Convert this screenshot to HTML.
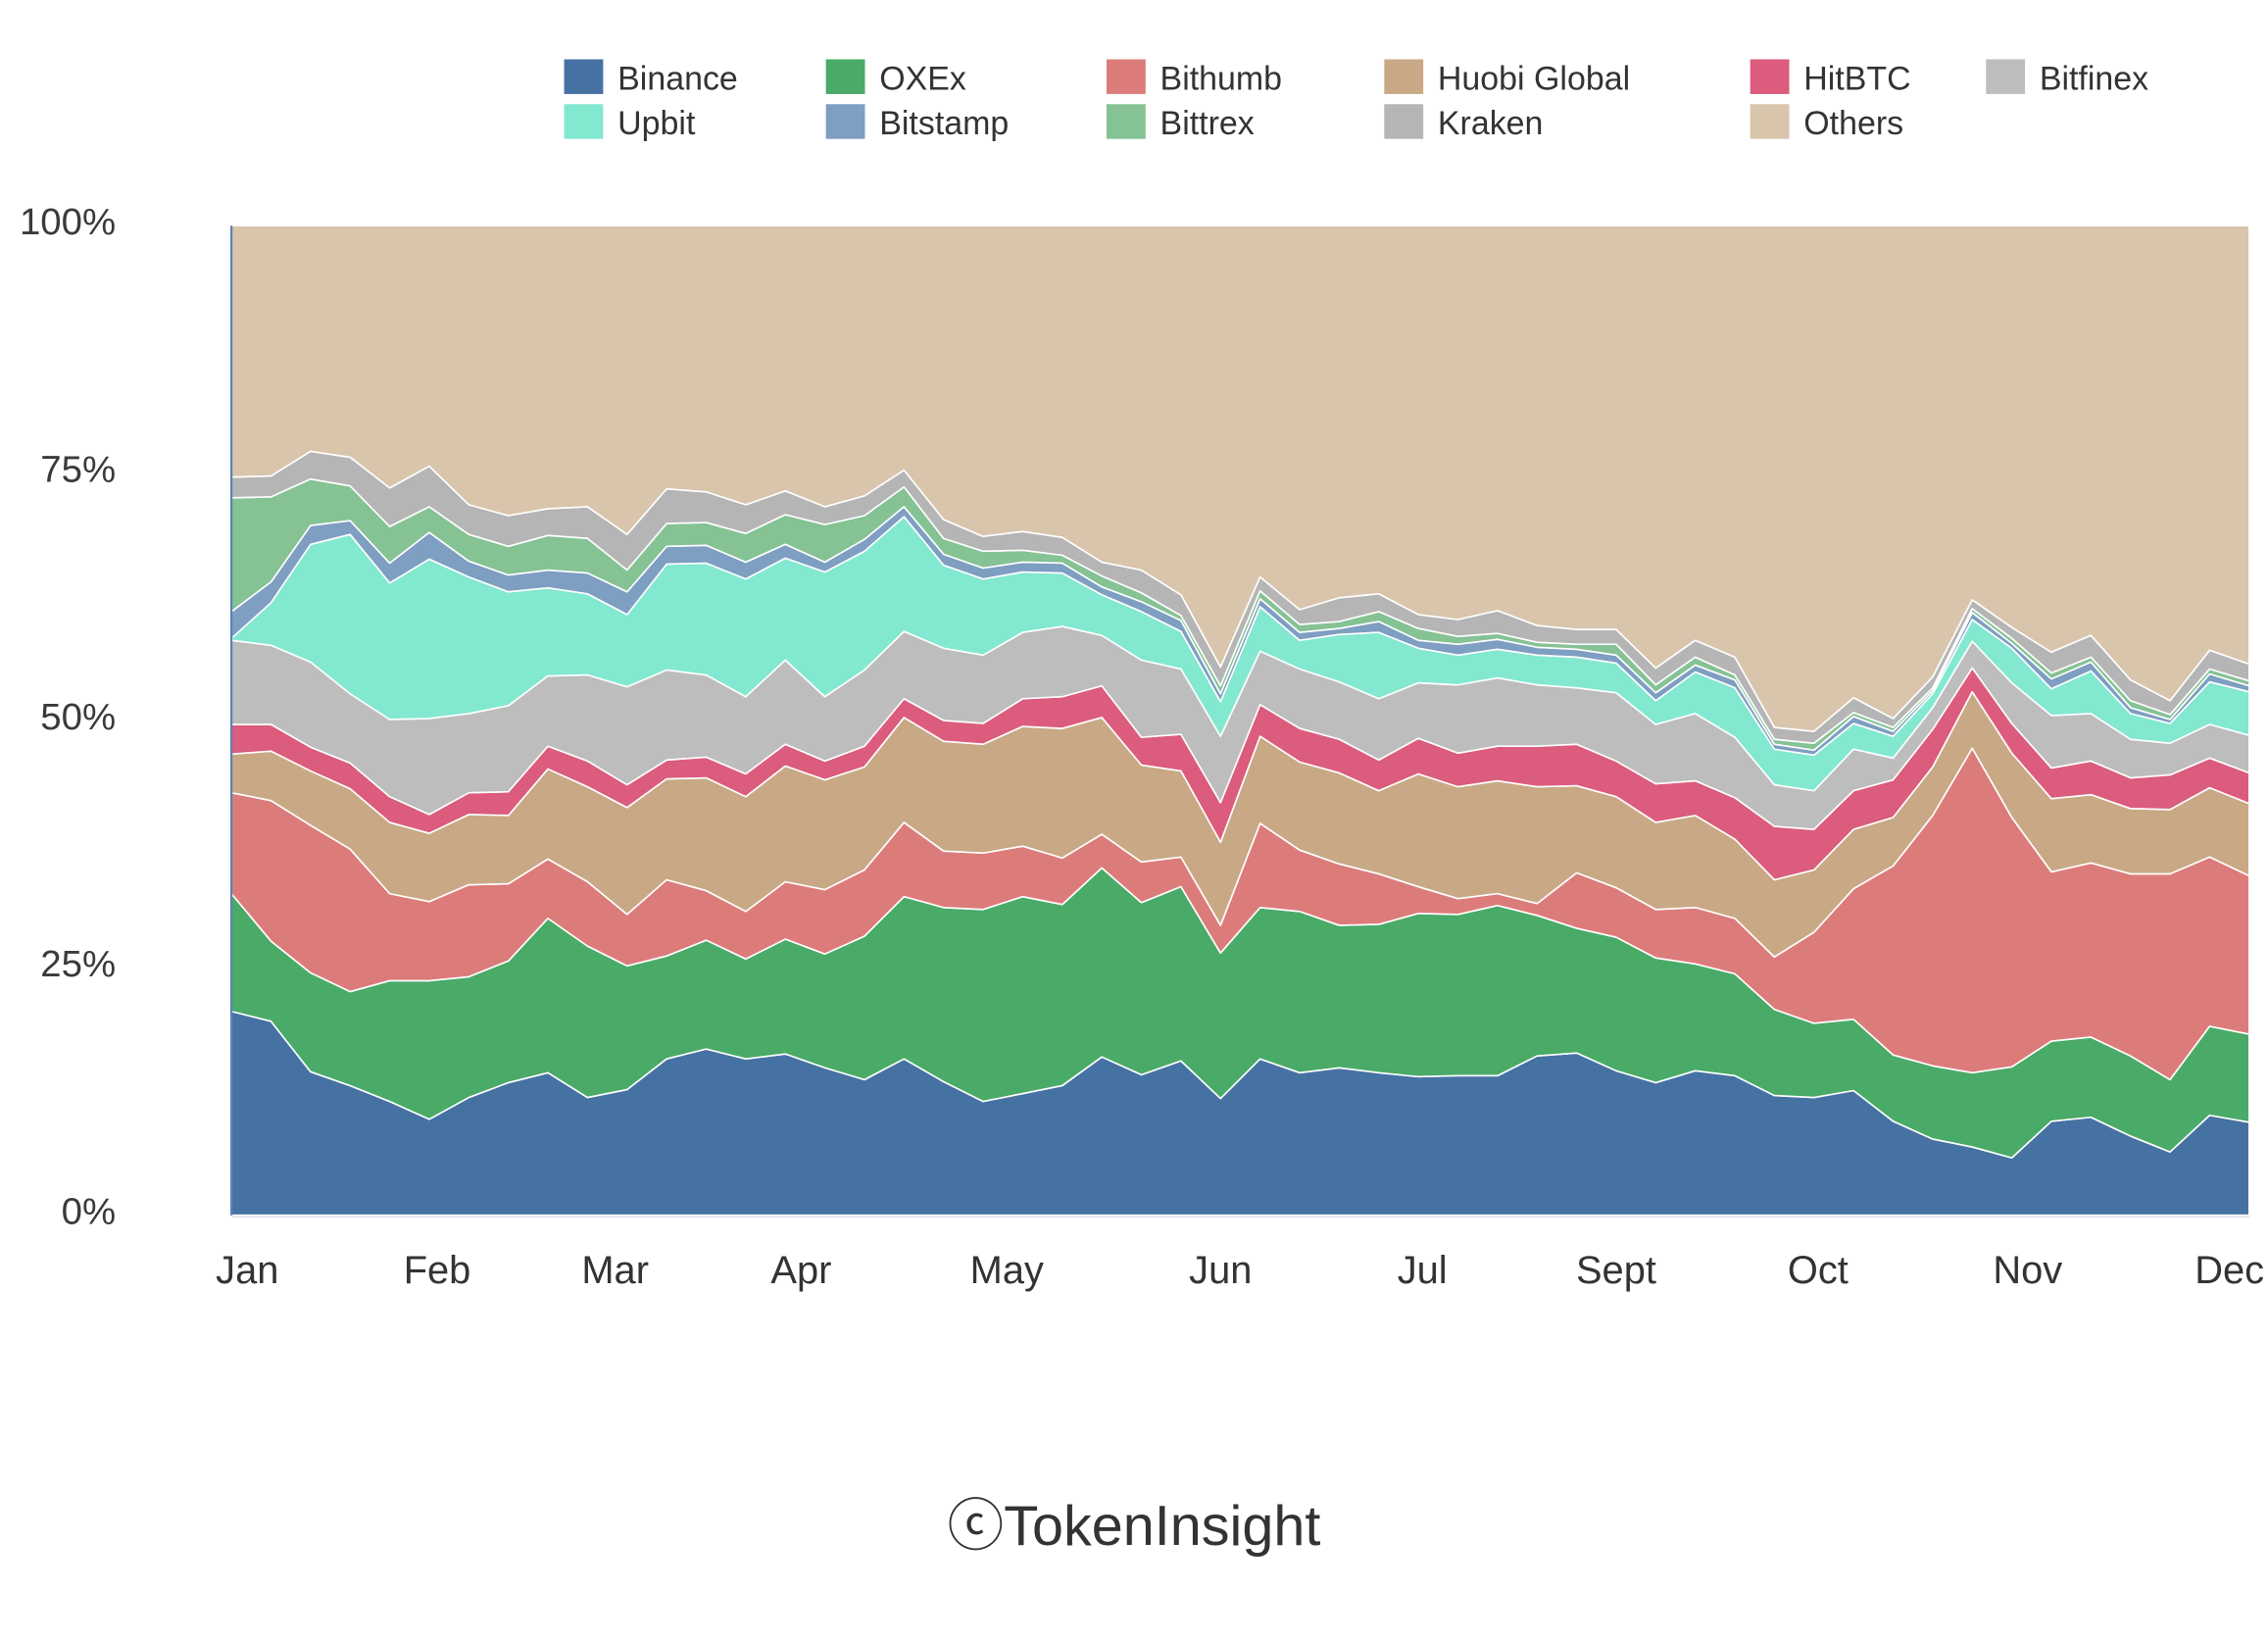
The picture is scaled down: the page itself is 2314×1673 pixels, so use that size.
<!DOCTYPE html>
<html><head><meta charset="utf-8">
<style>
html,body{margin:0;padding:0;background:#fff;}
svg{display:block;font-family:"Liberation Sans",sans-serif;}
</style></head>
<body>
<svg id="chart" width="2314" height="1673" viewBox="0 0 1568 1133.6" preserveAspectRatio="none" xmlns="http://www.w3.org/2000/svg">
<g id="legend"></g>
<g id="plot"></g>
<g id="axes"></g>
<text x="784" y="1068" text-anchor="middle" font-size="39" fill="#333">ⓒTokenInsight</text>
</svg>
<script>
const months = ["Jan","Feb","Mar","Apr","May","Jun","Jul","Sept","Oct","Nov","Dec"];
const monthIndex = [0.4,5.2,9.7,14.4,19.6,25,30.1,35,40.1,45.4,50.5];
const yTicks = [0,25,50,75,100];
const seriesNames = ["Binance","OXEx","Bithumb","Huobi Global","HitBTC","Bitfinex","Upbit","Bitstamp","Bittrex","Kraken","Others"];
const seriesColors = ["#4672a3","#4aaa67","#dc7c7a","#c9a985","#db5c7c","#bdbdbd","#83e8d0","#7e9ec2","#85c294","#b5b5b5","#d8c5ac"];
const binance = [20.6,19.6,14.5,13.1,11.5,9.7,11.9,13.4,14.4,11.9,12.7,15.8,16.8,15.8,16.3,14.9,13.7,15.8,13.5,11.5,12.3,13.1,16.0,14.2,15.6,11.8,15.8,14.4,14.9,14.4,14.0,14.1,14.1,16.1,16.4,14.6,13.4,14.6,14.1,12.1,11.9,12.6,9.5,7.7,6.9,5.8,9.5,9.9,8.0,6.4,10.1,9.4];
const oxex = [11.9,8.1,10.0,9.5,12.2,14.0,12.2,12.3,15.6,15.3,12.5,10.4,11.0,10.1,11.6,11.5,14.5,16.4,17.6,19.4,19.9,18.3,19.1,17.4,17.6,14.7,15.3,16.3,14.4,15.0,16.5,16.3,17.2,14.2,12.6,13.5,12.6,10.8,10.3,8.7,7.5,7.2,6.7,7.4,7.5,9.2,8.1,8.1,8.1,7.3,9.0,8.9];
const bithumb = [10.2,14.2,14.9,14.4,8.8,8.0,9.3,7.8,6.0,6.5,5.2,7.7,5.0,4.8,5.8,6.5,6.7,7.5,5.7,5.7,5.1,4.7,3.4,4.1,3.0,2.8,8.5,6.2,6.2,5.1,2.7,1.6,1.2,1.2,5.6,5.0,4.9,5.7,5.6,5.3,9.2,13.2,19.1,25.3,32.8,25.2,17.1,17.6,18.4,20.8,17.1,16.0];
const huobi = [3.9,5.0,5.5,6.1,7.2,6.9,7.1,6.9,9.1,9.6,10.8,10.2,11.4,11.6,11.7,11.1,10.4,10.6,11.1,11.0,12.1,13.1,11.8,9.8,8.7,8.4,8.8,8.9,9.2,8.4,11.4,11.3,11.4,11.8,8.8,9.2,8.8,9.3,8.0,7.8,6.3,6.0,4.9,4.9,5.7,6.5,7.4,6.9,6.6,6.5,7.0,7.3];
const hitbtc = [3.0,2.7,2.4,2.6,2.6,1.9,2.2,2.4,2.3,2.6,2.3,1.9,2.1,2.3,2.2,1.9,2.1,1.9,2.1,2.1,2.8,3.2,3.2,2.8,3.7,4.0,3.2,3.4,3.4,3.1,3.6,3.4,3.5,4.1,4.2,3.6,3.9,3.5,4.2,5.4,4.1,3.9,3.8,3.8,2.4,3.0,3.1,3.4,3.1,3.5,3.0,3.1];
const bitfinex = [8.5,8.0,8.6,7.0,7.8,9.7,8.0,8.7,7.1,8.7,9.9,9.1,8.3,7.8,8.5,6.5,7.7,6.8,7.3,6.9,6.7,7.1,5.1,7.8,6.6,6.7,5.4,6.0,5.8,6.2,5.6,6.9,6.9,6.2,5.7,6.9,6.0,6.8,6.1,4.2,3.9,4.2,2.2,2.2,2.7,4.1,5.3,4.8,3.9,3.2,3.4,3.8];
const upbit = [0.2,4.3,11.9,16.1,13.8,16.1,13.8,11.5,8.9,8.2,7.3,10.7,11.3,11.9,10.3,12.6,12.0,11.6,8.4,7.7,6.1,5.4,4.1,4.9,3.8,3.5,4.5,2.9,4.8,6.7,3.5,3.0,2.9,3.0,3.1,3.0,2.4,4.2,5.0,3.6,3.6,2.6,2.2,1.4,2.2,3.5,2.7,4.3,2.6,2.0,4.3,4.4];
const bitstamp = [2.7,2.1,1.9,1.4,2.0,2.7,1.6,1.7,1.8,2.1,2.3,1.8,1.8,1.7,1.4,1.0,1.2,1.0,1.1,1.1,1.0,1.0,0.8,1.0,1.1,0.8,0.8,0.8,0.6,1.1,0.8,1.1,1.0,0.8,0.8,0.8,0.8,0.7,0.8,0.5,0.5,0.7,0.5,0.3,0.7,0.5,1.0,0.9,0.6,0.4,0.8,0.6];
const bittrex = [11.5,8.6,4.7,3.5,3.7,2.6,2.7,2.9,3.5,3.5,2.2,2.3,2.3,2.9,3.0,3.8,2.4,2.0,1.6,1.7,1.2,0.8,1.1,0.9,0.5,0.8,0.8,0.8,0.7,1.0,1.2,0.8,0.6,0.5,0.5,1.1,0.8,0.8,0.5,0.5,0.7,0.4,0.4,0.3,0.4,0.5,0.6,0.5,0.7,0.5,0.5,0.5];
const kraken = [2.1,2.1,2.8,2.9,3.9,4.1,3.0,3.1,2.7,3.2,3.6,3.5,3.1,2.9,2.4,1.8,2.0,1.7,1.9,1.5,1.9,1.8,1.4,2.3,2.1,1.9,1.4,1.5,2.4,1.8,1.4,1.7,2.3,1.7,1.5,1.5,1.7,1.7,1.8,1.2,1.2,1.5,0.9,1.1,0.9,1.1,2.1,2.2,2.1,1.4,1.9,1.7];

const NS="http://www.w3.org/2000/svg";
const X0=160, X1=1555, Y0=840, Y1=156;
const N = binance.length;
function xScale(i){return X0 + i*(X1-X0)/(N-1);}
function yScale(v){return Y0 - v/100*(Y0-Y1);}
function mk(tag, attrs, parent){const e=document.createElementNS(NS,tag);for(const k in attrs)e.setAttribute(k,attrs[k]);parent.appendChild(e);return e;}

const known=[binance,oxex,bithumb,huobi,hitbtc,bitfinex,upbit,bitstamp,bittrex,kraken];
const others = binance.map((_,i)=>Math.max(0,100-known.reduce((s,a)=>s+a[i],0)));
const allSeries=[...known,others];

const plot=document.getElementById('plot');
let base=new Array(N).fill(0);
allSeries.forEach((arr,si)=>{
  const top=base.map((b,i)=>b+arr[i]);
  let d="";
  for(let i=0;i<N;i++) d+=(i?"L":"M")+xScale(i).toFixed(2)+","+yScale(top[i]).toFixed(2);
  for(let i=N-1;i>=0;i--) d+="L"+xScale(i).toFixed(2)+","+yScale(base[i]).toFixed(2);
  d+="Z";
  const p=mk('path',{d:d,fill:seriesColors[si],stroke:"#ffffff","stroke-width":"1.1","stroke-linejoin":"round"},plot);
  
  
  base=top;
});

const axes=document.getElementById('axes');
const ax=mk('line',{x1:X0,y1:Y1,x2:X0,y2:Y0,stroke:"#5b83b8","stroke-width":"1.5"},axes);


const bx=mk('line',{x1:X0,y1:Y0+1,x2:X1,y2:Y0+1,stroke:"#dfe6ee","stroke-width":"1.5"},axes);


yTicks.forEach(t=>{
  const tx=mk('text',{x:80,y:yScale(t)+6,"text-anchor":"end","font-size":"26",fill:"#3a3a3a"},axes);
  tx.textContent=t+"%";
  
  
});
months.forEach((m,k)=>{
  const tx=mk('text',{x:xScale(monthIndex[k]),y:887,"text-anchor":"middle","font-size":"27",fill:"#333"},axes);
  tx.textContent=m;
  
  
});

const legend=document.getElementById('legend');
const legX=[390,571,765,957,1210,1373];
seriesNames.forEach((n,si)=>{
  const row=si<6?0:1, col=si<6?si:si-6;
  const g=mk('g',{},legend);
  
  
  mk('rect',{x:legX[col],y:41+row*31,width:27,height:24,fill:seriesColors[si]},g);
  const t=mk('text',{x:legX[col]+37,y:62+row*31,"font-size":"23",fill:"#333"},g);
  t.textContent=n;
});
</script>
</body></html>
